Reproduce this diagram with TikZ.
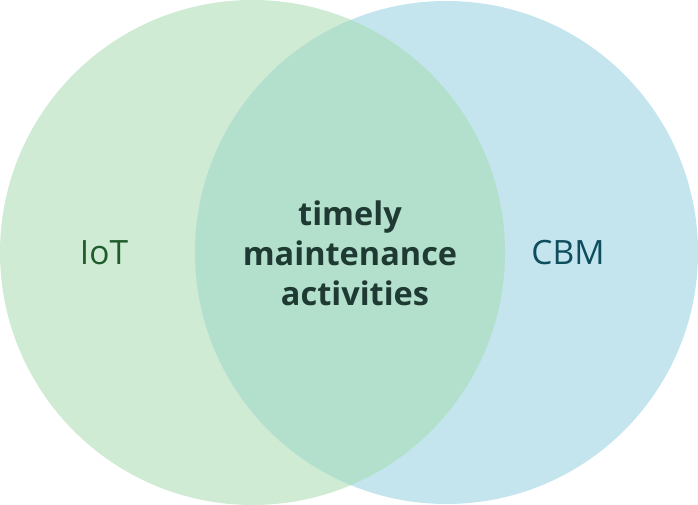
\documentclass[tikz,border=0pt]{standalone}
\usepackage{fontspec}
\setmainfont{Open Sans}
\definecolor{lgreen}{HTML}{D0EBD4}
\definecolor{lblue}{HTML}{C4E5EE}
\definecolor{lover}{HTML}{B3E0CD}
\definecolor{tgreen}{HTML}{1E5C2C}
\definecolor{tblue}{HTML}{0E4D5E}
\definecolor{tdark}{HTML}{1F3A33}
\begin{document}
\begin{tikzpicture}[x=1pt,y=1pt,
  lbl/.style={font=\fontsize{33.5}{36}\selectfont, inner sep=0pt},
  ctr/.style={font=\fontsize{32.5}{40}\selectfont\bfseries, align=center, inner sep=0pt, text=tdark}]
\useasboundingbox (0,0) rectangle (698,505);
\fill[lgreen] (252.5,252.5) circle (252.5);
\fill[lblue] (446.5,252.5) circle (251.5);
\begin{scope}
  \clip (252.5,252.5) circle (252.5);
  \fill[lover] (446.5,252.5) circle (251.5);
\end{scope}
\node[lbl, text=tgreen] (iot) at (104,252) {IoT};
\node[lbl, text=tblue] (cbm) at (568,252) {CBM};
\node[ctr] (mid) at (350,252) {timely\hspace{10pt}\\maintenance\\\hspace{10pt}activities};
\end{tikzpicture}
\end{document}
